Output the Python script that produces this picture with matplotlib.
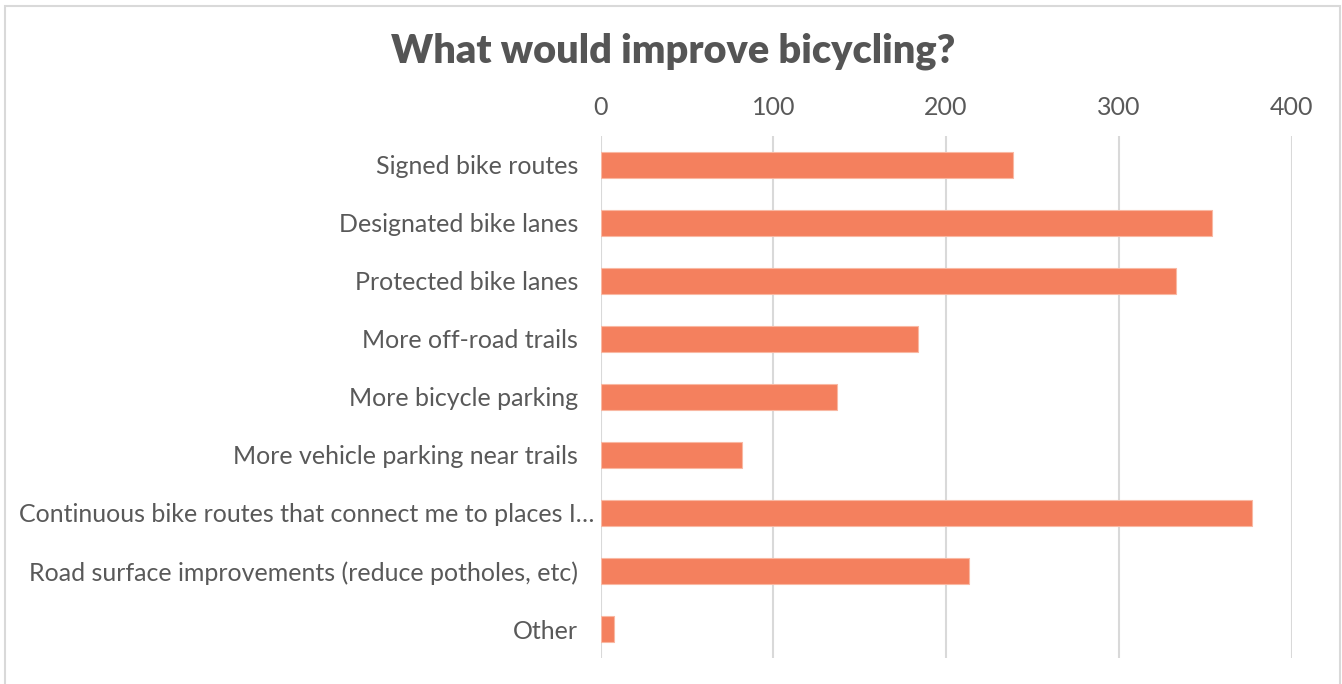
import matplotlib
matplotlib.use("Agg")
import matplotlib.pyplot as plt
import matplotlib.transforms as mtransforms
from matplotlib.patches import Rectangle

categories = [
    "Signed bike routes",
    "Designated bike lanes",
    "Protected bike lanes",
    "More off-road trails",
    "More bicycle parking",
    "More vehicle parking near trails",
    "Continuous bike routes that connect me to places I\u2026",
    "Road surface improvements (reduce potholes, etc)",
    "Other",
]
responses = [239, 354, 333, 184, 137, 82, 377, 213, 8]
x_ticks = [0, 100, 200, 300, 400]

BAR_COLOR = "#F4805E"
TEXT_COLOR = "#595959"
GRID_COLOR = "#D9D9D9"

plt.rcParams["font.family"] = ["Lato", "DejaVu Sans"]

fig = plt.figure(figsize=(13.42, 6.84), dpi=100)
ax = fig.add_axes([0.4475, 0.038, 0.5150, 0.7632])

positions = list(range(len(categories)))
ax.barh(positions, responses, height=0.46, color=BAR_COLOR,
        edgecolor="#F9B8A3", linewidth=0.8, zorder=3)

ax.set_xlim(0, 400)
ax.set_ylim(len(categories) - 0.5, -0.5)
ax.set_yticks(positions)
ax.set_yticklabels(categories, fontsize=18, color=TEXT_COLOR)
ax.set_xticks(x_ticks)
ax.set_xticklabels([str(t) for t in x_ticks], fontsize=18, color=TEXT_COLOR)
ax.xaxis.tick_top()
ax.tick_params(axis="x", length=0, pad=12)
ax.tick_params(axis="y", length=0, pad=16)
ax.grid(axis="x", color=GRID_COLOR, linewidth=1.5, zorder=0)
for spine in ax.spines.values():
    spine.set_visible(False)

# the truncated label runs closer to the axis, like the original
long_label = ax.get_yticklabels()[6]
long_label.set_transform(long_label.get_transform()
                         + mtransforms.ScaledTranslation(0.16, 0, fig.dpi_scale_trans))

fig.text(0.5015, 0.925, "What would improve bicycling?", ha="center", va="center",
         fontsize=28.5, fontweight="heavy", color="#555555")

# chart border
fig.patches.append(Rectangle((5 / 1342, -0.01), 1335 / 1342, 1 - 6 / 684 + 0.01,
                             transform=fig.transFigure, fill=False,
                             edgecolor=GRID_COLOR, linewidth=1.5))

fig.savefig("out.png", dpi=100)
